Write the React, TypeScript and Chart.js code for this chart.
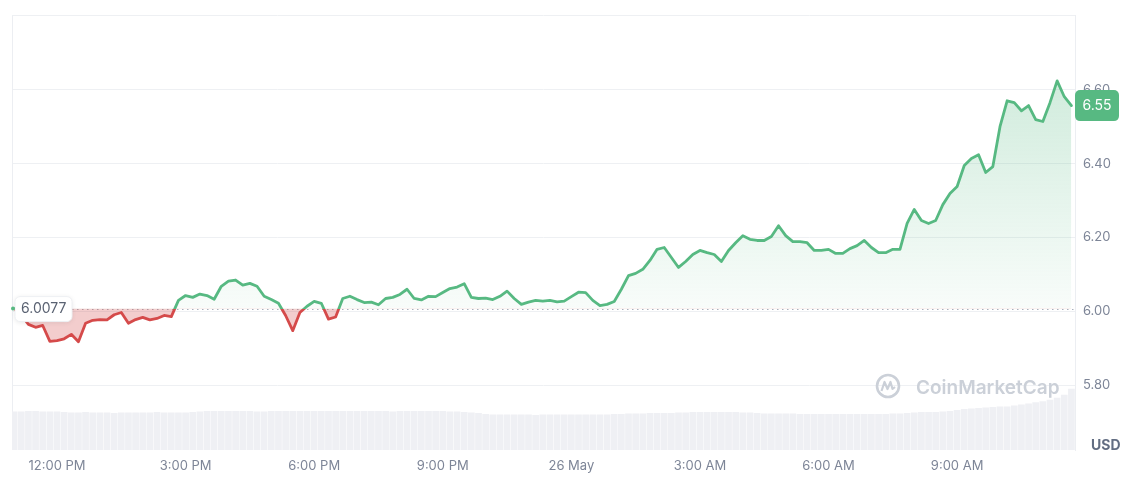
import React, { useEffect, useRef } from 'react';
import { Chart, registerables } from 'chart.js';

Chart.register(...registerables);

// ---- data ----
const START_MIN = 660; // 11:00 AM, 25 May (minutes since midnight)
const STEP_MIN = 10;
const OPEN_PRICE = 6.0077;

const prices = [
  6.008, 5.990, 5.965, 5.957, 5.962, 5.919, 5.921, 5.926, 5.938, 5.918,
  5.968, 5.976, 5.978, 5.977, 5.991, 5.997, 5.968, 5.978, 5.984, 5.977,
  5.981, 5.989, 5.986, 6.030, 6.043, 6.038, 6.047, 6.043, 6.033, 6.068,
  6.082, 6.085, 6.071, 6.076, 6.068, 6.041, 6.032, 6.022, 5.989, 5.948,
  5.997, 6.014, 6.027, 6.022, 5.979, 5.985, 6.035, 6.041, 6.032, 6.024,
  6.025, 6.018, 6.035, 6.038, 6.046, 6.060, 6.035, 6.031, 6.041, 6.040,
  6.051, 6.062, 6.066, 6.075, 6.038, 6.035, 6.036, 6.032, 6.041, 6.055,
  6.035, 6.019, 6.025, 6.030, 6.028, 6.030, 6.026, 6.028, 6.040, 6.052,
  6.051, 6.030, 6.016, 6.019, 6.027, 6.060, 6.097, 6.103, 6.114, 6.138,
  6.168, 6.173, 6.146, 6.119, 6.135, 6.154, 6.165, 6.159, 6.154, 6.135,
  6.165, 6.186, 6.205, 6.195, 6.192, 6.192, 6.203, 6.232, 6.205, 6.189,
  6.189, 6.186, 6.165, 6.165, 6.168, 6.157, 6.157, 6.170, 6.178, 6.192,
  6.173, 6.159, 6.159, 6.168, 6.168, 6.238, 6.276, 6.246, 6.238, 6.246,
  6.289, 6.319, 6.338, 6.395, 6.414, 6.424, 6.376, 6.392, 6.500, 6.570,
  6.565, 6.543, 6.557, 6.519, 6.514, 6.565, 6.624, 6.581, 6.557,
];

const volumes = [
  39, 39, 39.5, 39.5, 39, 39, 39, 38.5, 38, 38,
  38.5, 38, 38, 38, 37.5, 38, 38, 38, 38, 38,
  38.5, 38, 38, 38, 38, 38.5, 39, 39.5, 39.5, 39.5,
  39.5, 39.5, 39.5, 39.5, 39, 39, 39.5, 39.5, 39.5, 39.5,
  39.5, 39.5, 39.5, 39.5, 39.5, 39.5, 39.5, 39.5, 39.5, 39.5,
  39.5, 39.5, 39.5, 39, 39.5, 39.5, 39.5, 39.5, 39.5, 39.5,
  39.5, 39, 39, 38.5, 38, 37.5, 36.5, 36, 36, 36,
  36, 36, 36, 35.5, 36, 36, 36, 36, 36, 36,
  36, 36, 36, 36, 36.5, 36.5, 37, 37, 37, 37.5,
  37.5, 37.5, 37.5, 38, 38, 38.5, 38.5, 38.5, 38.5, 38.5,
  38.5, 38.5, 38, 38, 37.5, 37, 37, 37, 37, 37,
  36.5, 36.5, 36.5, 36.5, 36.5, 36.5, 36.5, 36.5, 36.5, 36.5,
  36.5, 36.5, 36.5, 37, 37, 37.5, 38, 38.5, 38.5, 38.5,
  39, 39.5, 40.5, 41.5, 42, 42.5, 43, 43.5, 44, 44,
  45, 46, 47, 48.5, 49.5, 51, 53, 56, 62,
];

const xTickValues = [720, 900, 1080, 1260, 1440, 1620, 1800, 1980];
const xTickLabels = ['12:00 PM', '3:00 PM', '6:00 PM', '9:00 PM', '26 May', '3:00 AM', '6:00 AM', '9:00 AM'];
const yTickValues = [5.8, 6.0, 6.2, 6.4, 6.6, 6.8];
const yTickLabels = ['5.80', '6.00', '6.20', '6.40', '6.60', ''];

const X_MIN = 657;
const X_MAX = 2145;
const Y_MIN = 5.625;
const Y_MAX = 6.8;
const VOL_MAX = 440;

// ---- styles ----
const GREEN = '#57b982';
const RED = '#d54a4a';
const TICK_COLOR = '#7d8597';
const FONT = 'Inter, "Noto Sans", "DejaVu Sans", sans-serif';

const overlayPlugin = {
  id: 'cmcOverlay',
  beforeDatasetsDraw(chart: any) {
    const { ctx, chartArea: ca, scales } = chart;
    ctx.save();
    // left border
    ctx.strokeStyle = '#eceef2';
    ctx.lineWidth = 1;
    ctx.beginPath();
    ctx.moveTo(ca.left + 0.5, ca.top);
    ctx.lineTo(ca.left + 0.5, ca.bottom);
    ctx.stroke();

    // watermark
    const wx = 888;
    const wy = 386;
    ctx.strokeStyle = '#cbd0d8';
    ctx.lineWidth = 2.6;
    ctx.beginPath();
    ctx.arc(wx, wy, 11, 0, Math.PI * 2);
    ctx.stroke();
    ctx.lineWidth = 2.2;
    ctx.lineJoin = 'round';
    ctx.beginPath();
    ctx.moveTo(wx - 6.5, wy + 5);
    ctx.lineTo(wx - 3.5, wy - 4);
    ctx.lineTo(wx - 0.5, wy + 3);
    ctx.lineTo(wx + 2.5, wy - 4);
    ctx.lineTo(wx + 4.5, wy + 3);
    ctx.lineTo(wx + 7, wy + 1);
    ctx.stroke();
    ctx.fillStyle = '#cbd0d8';
    ctx.font = `600 19px ${FONT}`;
    ctx.textBaseline = 'middle';
    ctx.textAlign = 'left';
    ctx.fillText('CoinMarketCap', 916, 388);

    // dotted baseline at open price
    const yb = Math.round(scales.y.getPixelForValue(OPEN_PRICE)) + 0.5;
    ctx.strokeStyle = '#a9b0bc';
    ctx.lineWidth = 1;
    ctx.setLineDash([1.5, 3.5]);
    ctx.beginPath();
    ctx.moveTo(ca.left, yb);
    ctx.lineTo(ca.right, yb);
    ctx.stroke();
    ctx.restore();
  },
  afterDatasetsDraw(chart: any) {
    const { ctx, chartArea: ca, scales } = chart;
    ctx.save();
    const yb = scales.y.getPixelForValue(OPEN_PRICE);

    // open price label box
    ctx.shadowColor = 'rgba(0,0,0,0.10)';
    ctx.shadowBlur = 5;
    ctx.shadowOffsetY = 1;
    ctx.fillStyle = '#ffffff';
    ctx.beginPath();
    ctx.roundRect(15, yb - 12, 57, 25, 5);
    ctx.fill();
    ctx.shadowColor = 'transparent';
    ctx.strokeStyle = '#eef0f3';
    ctx.lineWidth = 1;
    ctx.stroke();
    ctx.fillStyle = '#5a6272';
    ctx.font = `400 14px ${FONT}`;
    ctx.textAlign = 'left';
    ctx.textBaseline = 'middle';
    ctx.fillText(OPEN_PRICE.toFixed(4), 21, yb + 0.5);

    // start dot
    const y0 = scales.y.getPixelForValue(prices[0]);
    ctx.fillStyle = GREEN;
    ctx.beginPath();
    ctx.arc(ca.left + 1, y0, 2, 0, Math.PI * 2);
    ctx.fill();

    // current price tag
    const last = prices[prices.length - 1];
    const yl = scales.y.getPixelForValue(last);
    ctx.fillStyle = GREEN;
    ctx.beginPath();
    ctx.roundRect(ca.right, yl - 15.5, 44, 31, 5);
    ctx.fill();
    ctx.fillStyle = '#ffffff';
    ctx.font = `400 14px ${FONT}`;
    ctx.textAlign = 'center';
    ctx.fillText((Math.floor(last * 100) / 100).toFixed(2), ca.right + 22, yl + 0.5);

    // currency label
    ctx.fillStyle = '#626d82';
    ctx.font = `700 14px ${FONT}`;
    ctx.textAlign = 'left';
    ctx.fillText('USD', 1091, 446);
    ctx.restore();
  },
};

export default function App() {
  const canvasRef = useRef<HTMLCanvasElement | null>(null);

  useEffect(() => {
    document.body.style.margin = '0';
    const canvas = canvasRef.current;
    if (!canvas) return;
    Chart.defaults.font.family = FONT;

    const lineData = prices.map((p, i) => ({ x: START_MIN + i * STEP_MIN, y: p }));
    const volData = volumes.map((v, i) => ({ x: START_MIN + i * STEP_MIN, y: v }));

    const chart = new Chart(canvas, {
      type: 'line',
      data: {
        datasets: [
          {
            type: 'line',
            data: lineData,
            yAxisID: 'y',
            order: 1,
            borderWidth: 2.8,
            pointRadius: 0,
            tension: 0,
            borderJoinStyle: 'round',
            borderCapStyle: 'round',
            borderColor: (c: any) => {
              const chart = c.chart;
              const ca = chart.chartArea;
              if (!ca) return GREEN;
              const yb = chart.scales.y.getPixelForValue(OPEN_PRICE);
              const f = Math.min(1, Math.max(0, (yb - ca.top) / (ca.bottom - ca.top)));
              const g = chart.ctx.createLinearGradient(0, ca.top, 0, ca.bottom);
              g.addColorStop(0, GREEN);
              g.addColorStop(f, GREEN);
              g.addColorStop(Math.min(1, f + 0.0001), RED);
              g.addColorStop(1, RED);
              return g;
            },
            backgroundColor: (c: any) => {
              const chart = c.chart;
              const ca = chart.chartArea;
              if (!ca) return 'rgba(87,185,130,0.15)';
              const yb = chart.scales.y.getPixelForValue(OPEN_PRICE);
              const g = chart.ctx.createLinearGradient(0, ca.top, 0, yb);
              g.addColorStop(0, 'rgba(87,185,130,0.34)');
              g.addColorStop(1, 'rgba(87,185,130,0.04)');
              return g;
            },
            fill: { target: { value: OPEN_PRICE }, below: 'rgba(213,74,74,0.28)' },
          } as any,
          {
            type: 'bar',
            data: volData,
            yAxisID: 'yv',
            order: 2,
            backgroundColor: '#eff0f4',
            barPercentage: 1,
            categoryPercentage: 0.94,
          } as any,
        ],
      },
      options: {
        animation: false,
        responsive: false,
        maintainAspectRatio: false,
        events: [],
        layout: { padding: { left: 12, top: 13, right: 0, bottom: 0 } },
        plugins: { legend: { display: false }, tooltip: { enabled: false } },
        scales: {
          x: {
            type: 'linear',
            min: X_MIN,
            max: X_MAX,
            offset: false,
            grid: { display: false, drawTicks: false, offset: false },
            border: { display: false },
            afterBuildTicks: (s: any) => {
              s.ticks = xTickValues.map((v) => ({ value: v }));
            },
            afterFit: (s: any) => {
              s.height = 29;
            },
            ticks: {
              autoSkip: false,
              maxRotation: 0,
              padding: 8,
              color: TICK_COLOR,
              font: { size: 13 },
              callback: (v: any) => {
                const i = xTickValues.indexOf(Number(v));
                return i >= 0 ? xTickLabels[i] : '';
              },
            },
          },
          y: {
            type: 'linear',
            position: 'right',
            min: Y_MIN,
            max: Y_MAX,
            grid: { color: '#eef0f3', drawTicks: false },
            border: { display: true, color: '#eceef2' },
            afterBuildTicks: (s: any) => {
              s.ticks = yTickValues.map((v) => ({ value: v }));
            },
            afterFit: (s: any) => {
              s.width = 65;
            },
            ticks: {
              padding: 8,
              color: TICK_COLOR,
              font: { size: 13 },
              callback: (v: any) => {
                const i = yTickValues.findIndex((t) => Math.abs(t - Number(v)) < 1e-6);
                return i >= 0 ? yTickLabels[i] : '';
              },
            },
          },
          yv: { type: 'linear', display: false, min: 0, max: VOL_MAX },
        },
      } as any,
      plugins: [overlayPlugin],
    });

    return () => chart.destroy();
  }, []);

  return (
    <div style={{ width: 1140, height: 479, background: '#ffffff' }}>
      <canvas ref={canvasRef} width={1140} height={479} style={{ display: 'block', width: 1140, height: 479 }} />
    </div>
  );
}
